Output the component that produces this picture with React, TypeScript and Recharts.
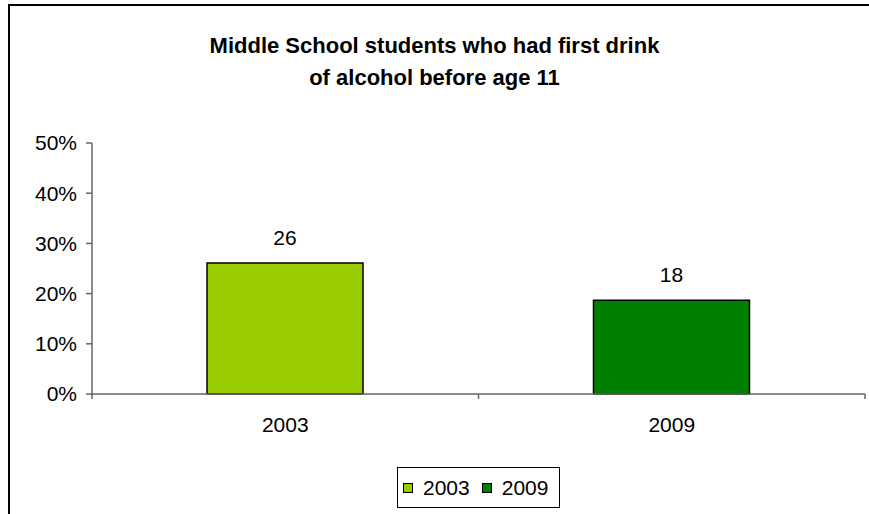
import React from 'react';
import { BarChart, Bar, XAxis, YAxis, Cell, LabelList } from 'recharts';

const categories = ['2003', '2009'];
const values = [26.1, 18.7];
const valueLabels = ['26', '18'];
const colors = ['#99CC00', '#008000'];
const yTicks = [0, 10, 20, 30, 40, 50];
const titleLines = ['Middle School students who had first drink', 'of alcohol before age 11'];

const data = categories.map((c, i) => ({ name: c, value: values[i], label: valueLabels[i], color: colors[i] }));

const FONT = '"Liberation Sans", Arial, sans-serif';

const XTick = (props: any) => {
  const { x, y, payload, index } = props;
  const off = payload.offset || 0;
  return (
    <g>
      {index === 0 && <line x1={x - off} x2={x - off} y1={y} y2={y + 5} stroke="#666" strokeWidth={1.5} />}
      <line x1={x + off} x2={x + off} y1={y} y2={y + 5} stroke="#666" strokeWidth={1.5} />
      <text x={x} y={y + 38} textAnchor="middle" fontSize={21} fontFamily={FONT} fill="#000">
        {payload.value}
      </text>
    </g>
  );
};

const LegendBox = () => (
  <div
    style={{
      position: 'absolute',
      left: 397,
      top: 467,
      boxSizing: 'border-box',
      width: 163,
      height: 41,
      border: '1px solid #000',
      display: 'flex',
      alignItems: 'center',
      paddingLeft: 5,
      fontFamily: FONT,
      fontSize: 21,
      background: '#fff',
    }}
  >
    {categories.map((c, i) => (
      <div key={c} style={{ display: 'flex', alignItems: 'center', marginRight: i === 0 ? 12 : 0 }}>
        <div style={{ boxSizing: 'border-box', width: 10, height: 10, border: '1px solid #000', background: colors[i], marginRight: 10 }} />
        <span style={{ lineHeight: '21px' }}>{c}</span>
      </div>
    ))}
  </div>
);

export default function App() {
  return (
    <div style={{ position: 'absolute', left: 0, top: 0, width: 869, height: 514, overflow: 'hidden', background: '#fff' }}>
      <div style={{ position: 'absolute', left: 8, top: 4, width: 1000, height: 1000, borderLeft: '2px solid #000', borderTop: '2px solid #000' }} />
      {titleLines.map((t, i) => (
        <div
          key={i}
          style={{
            position: 'absolute',
            left: 0,
            width: 869,
            top: 33 + i * 32,
            textAlign: 'center',
            fontFamily: FONT,
            fontWeight: 'bold',
            fontSize: 22,
            lineHeight: '26px',
            color: '#000',
          }}
        >
          {t}
        </div>
      ))}
      <div style={{ position: 'absolute', left: 0, top: 0 }}>
        <BarChart width={869} height={514} data={data} margin={{ top: 143, right: 4, left: 0, bottom: 90 }} barSize={156}>
          <YAxis
            type="number"
            domain={[0, 50]}
            ticks={yTicks}
            width={92}
            tickFormatter={(v: number) => `${v}%`}
            tick={{ fontSize: 21, fontFamily: FONT, fill: '#000' }}
            tickSize={6}
            tickMargin={9}
            stroke="#666"
            strokeWidth={1.5}
          />
          <XAxis dataKey="name" type="category" height={30} tickLine={false} tickSize={0} tickMargin={0} tick={<XTick />} stroke="#666" strokeWidth={1.5} interval={0} />
          <Bar dataKey="value" stroke="#000" strokeWidth={1.5} isAnimationActive={false}>
            {data.map((d) => (
              <Cell key={d.name} fill={d.color} />
            ))}
            <LabelList dataKey="label" position="top" offset={18} fontSize={21} fontFamily={FONT} fill="#000" />
          </Bar>
        </BarChart>
      </div>
      <LegendBox />
    </div>
  );
}
